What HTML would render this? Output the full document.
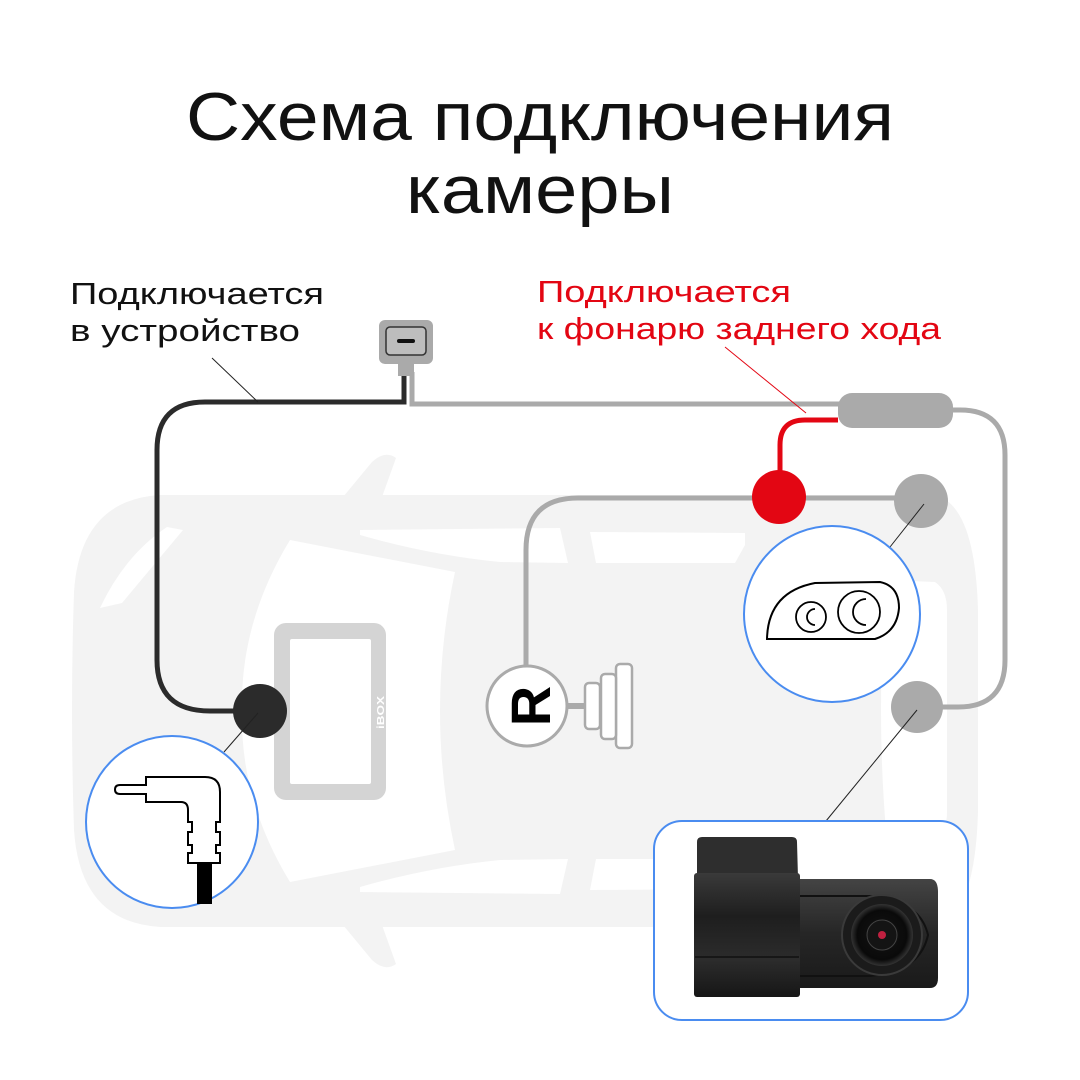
<!DOCTYPE html>
<html><head><meta charset="utf-8"><style>
html,body{margin:0;padding:0;background:#fff}
svg{display:block}
text{font-family:"Liberation Sans","DejaVu Sans",sans-serif}
</style></head><body>
<svg width="1080" height="1080" viewBox="0 0 1080 1080" xmlns="http://www.w3.org/2000/svg">
<defs>
<linearGradient id="cb" x1="0" y1="0" x2="0" y2="1">
<stop offset="0" stop-color="#3a3a3a"/><stop offset="0.35" stop-color="#1e1e1e"/><stop offset="0.7" stop-color="#2c2c2c"/><stop offset="1" stop-color="#161616"/></linearGradient>
<linearGradient id="cb2" x1="0" y1="0" x2="0" y2="1">
<stop offset="0" stop-color="#444"/><stop offset="0.5" stop-color="#262626"/><stop offset="1" stop-color="#1a1a1a"/></linearGradient>
<radialGradient id="lens" cx="0.5" cy="0.5" r="0.5"><stop offset="0" stop-color="#3a1020"/><stop offset="0.25" stop-color="#111"/><stop offset="0.8" stop-color="#0a0a0a"/><stop offset="1" stop-color="#333"/></radialGradient>
</defs>
<!-- title -->
<text x="540" y="140" font-size="68" text-anchor="middle" fill="#111" textLength="708" lengthAdjust="spacingAndGlyphs">Схема подключения</text>
<text x="540" y="213" font-size="68" text-anchor="middle" fill="#111" textLength="268" lengthAdjust="spacingAndGlyphs">камеры</text>
<!-- labels -->
<text x="70" y="304" font-size="31" fill="#111" textLength="254" lengthAdjust="spacingAndGlyphs">Подключается</text>
<text x="70" y="341" font-size="31" fill="#111" textLength="230" lengthAdjust="spacingAndGlyphs">в устройство</text>
<text x="537" y="302" font-size="31" fill="#e30613" textLength="254" lengthAdjust="spacingAndGlyphs">Подключается</text>
<text x="537" y="339" font-size="31" fill="#e30613" textLength="404" lengthAdjust="spacingAndGlyphs">к фонарю заднего хода</text>

<!-- car silhouette -->
<g fill="#f3f3f3">
<path d="M160,495 L935,495 Q975,505 978,610 L978,812 Q975,917 935,927 L160,927 Q80,922 74,830 Q70,711 74,592 Q80,500 160,495 Z"/>
<path d="M343,497 L372,462 Q385,450 396,458 L382,497 Z"/>
<path d="M343,925 L372,960 Q385,972 396,964 L382,925 Z"/>
</g>
<g fill="#fff">
<path d="M290,540 L455,572 Q425,711 455,850 L290,882 Q240,800 242,711 Q240,622 290,540 Z"/>
<path d="M360,530 L560,528 L568,563 L500,562 Q430,555 360,535 Z"/>
<path d="M360,892 L560,894 L568,859 L500,860 Q430,867 360,887 Z"/>
<path d="M590,532 L745,533 L745,545 L735,563 L596,563 Z"/>
<path d="M590,890 L745,889 L745,877 L735,859 L596,859 Z"/>
<path d="M100,608 L122,603 L183,530 L167,527 Q125,555 100,608 Z"/>
<path d="M100,814 L122,819 L183,892 L167,895 Q125,867 100,814 Z"/>
<path d="M887,580 L935,582 Q947,590 947,610 L947,812 Q947,832 935,840 L887,842 Q875,711 887,580 Z"/>
</g>

<!-- iBOX display -->
<rect x="274" y="623" width="112" height="177" rx="12" fill="#d4d4d4"/>
<rect x="290" y="639" width="81" height="145" rx="2" fill="#fff"/>
<text x="0" y="0" font-size="10" font-weight="bold" fill="#fff" transform="translate(384,729) rotate(-90)" textLength="33" lengthAdjust="spacingAndGlyphs">iBOX</text>

<!-- black cable -->
<path d="M404,372 L404,402 L205,402 Q157,402 157,450 L157,660 Q157,711 210,711 L240,711" fill="none" stroke="#2b2b2b" stroke-width="5"/>
<circle cx="260" cy="711" r="27" fill="#2b2b2b"/>
<line x1="212" y1="358" x2="258" y2="402" stroke="#222" stroke-width="1"/>

<!-- gray cable -->
<path d="M412,372 L412,404 L845,404" fill="none" stroke="#aaa" stroke-width="5"/>
<path d="M950,410 L960,410 Q1005,410 1005,455 L1005,660 Q1005,707 958,707 L925,707" fill="none" stroke="#aaa" stroke-width="5"/>
<rect x="838" y="393" width="115" height="35" rx="14" fill="#aaa"/>
<!-- connector -->
<rect x="379" y="320" width="54" height="44" rx="6" fill="#aaa"/>
<rect x="398" y="360" width="16" height="16" fill="#aaa"/>
<rect x="386" y="327" width="40" height="28" rx="4" fill="#bdbdbd" stroke="#333" stroke-width="1.5"/>
<rect x="397" y="339" width="18" height="4" rx="2" fill="#111"/>
<!-- red -->
<path d="M838,420 L805,420 Q780,420 780,445 L780,480" fill="none" stroke="#e30613" stroke-width="5"/>
<line x1="725" y1="347" x2="806" y2="413" stroke="#e30613" stroke-width="1"/>
<!-- gray line w/ R -->
<path d="M920,498 L578,498 Q526,498 526,550 L526,670" fill="none" stroke="#aaa" stroke-width="5"/>
<circle cx="779" cy="497" r="27" fill="#e30613"/>
<circle cx="921" cy="501" r="27" fill="#aaa"/>
<circle cx="917" cy="707" r="26" fill="#aaa"/>
<circle cx="527" cy="706" r="40" fill="#fff" stroke="#aaa" stroke-width="3"/>
<text x="0" y="0" font-size="56" font-weight="bold" fill="#000" text-anchor="middle" transform="translate(550,706) rotate(-90)">R</text>
<line x1="567" y1="706" x2="590" y2="706" stroke="#aaa" stroke-width="6"/>
<g fill="#fff" stroke="#aaa" stroke-width="2.5">
<rect x="616" y="664" width="16" height="84" rx="4"/>
<rect x="601" y="674" width="15" height="65" rx="4"/>
<rect x="585" y="683" width="15" height="46" rx="4"/>
</g>

<!-- headlight zoom -->
<line x1="890" y1="547" x2="924" y2="504" stroke="#222" stroke-width="1"/>
<circle cx="832" cy="614" r="88" fill="#fff" stroke="#4a8cf0" stroke-width="2"/>
<path d="M767,639 Q768,592 815,583 L880,582 Q899,586 899,608 Q897,632 875,639 Z" fill="none" stroke="#000" stroke-width="2"/>
<circle cx="811" cy="617" r="15" fill="none" stroke="#000" stroke-width="1.8"/>
<path d="M815,609 A8,8 0 1 0 815,625" fill="none" stroke="#000" stroke-width="1.8"/>
<circle cx="859" cy="612" r="21" fill="none" stroke="#000" stroke-width="1.8"/>
<path d="M866,599 A13,13 0 1 0 866,625" fill="none" stroke="#000" stroke-width="1.8"/>

<!-- plug zoom -->
<line x1="224" y1="752" x2="258" y2="713" stroke="#222" stroke-width="1"/>
<circle cx="172" cy="822" r="86" fill="#fff" stroke="#4a8cf0" stroke-width="2"/>
<path d="M146,785 L120,785 Q115,785 115,789.5 Q115,794 120,794 L146,794 L146,802 L181,802 Q188,802 188,810 L188,822 L192,822 L192,832 L188,832 L188,845 L192,845 L192,853 L188,853 L188,863 L220,863 L220,853 L216,853 L216,845 L220,845 L220,832 L216,832 L216,822 L220,822 L220,792 Q220,777 205,777 L146,777 Z" fill="#fff" stroke="#000" stroke-width="2"/>
<rect x="197" y="864" width="15" height="40" fill="#000"/>

<!-- camera box -->
<line x1="826" y1="821" x2="917" y2="710" stroke="#222" stroke-width="1"/>
<rect x="654" y="821" width="314" height="199" rx="28" fill="#fff" stroke="#4a8cf0" stroke-width="2"/>
<path d="M697,842 Q697,837 702,837 L792,837 Q797,837 797,842 L798,878 L697,880 Z" fill="#2e2e2e"/>
<rect x="694" y="873" width="106" height="124" rx="3" fill="url(#cb)"/>
<line x1="695" y1="957" x2="799" y2="957" stroke="#111" stroke-width="1.5"/>
<path d="M800,879 L930,879 Q938,879 938,892 L938,978 Q938,988 930,988 L800,988 Z" fill="url(#cb2)"/>
<path d="M800,896 L870,896 Q920,900 928,935 Q920,972 870,976 L800,976" fill="none" stroke="#111" stroke-width="2"/>
<circle cx="882" cy="935" r="40" fill="#1b1b1b" stroke="#3a3a3a" stroke-width="2"/>
<circle cx="882" cy="935" r="31" fill="url(#lens)"/>
<circle cx="882" cy="935" r="15" fill="#141414" stroke="#444" stroke-width="1"/>
<circle cx="882" cy="935" r="4" fill="#c02040"/>
</svg>
</body></html>
